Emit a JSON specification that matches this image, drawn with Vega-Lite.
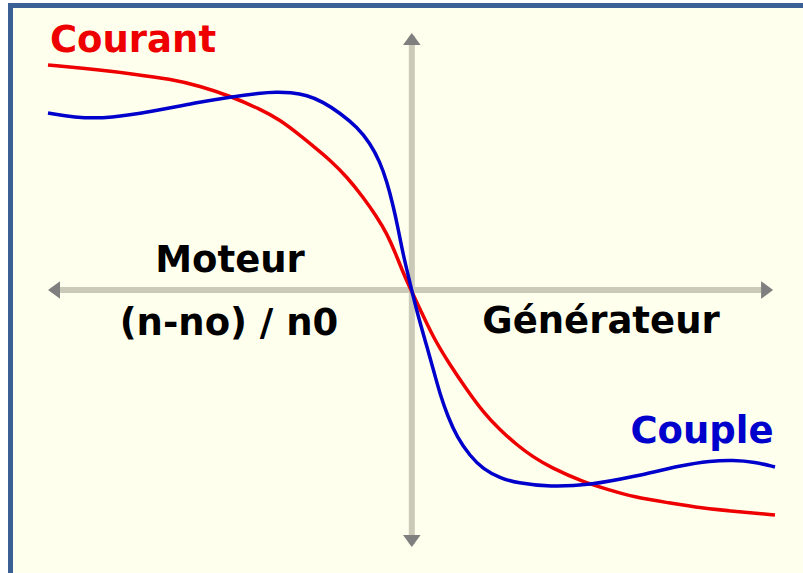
{
  "$schema": "https://vega.github.io/schema/vega-lite/v6.json",
  "autosize": "none",
  "padding": 0,
  "width": 803,
  "height": 573,
  "background": "white",
  "view": {"stroke": null},
  "datasets": {
    "frame": [{"x": -1.1036, "y": 1.2644, "x2": 1.08564, "y2": -1.25778}],
    "border": [
      {"x": -1.1036, "y": 1.2756, "x2": -1.1036, "y2": -1.25778},
      {"x": -1.1105, "y": 1.2644, "x2": 1.08564, "y2": 1.2644}
    ],
    "axes": [
      {"x": -0.99, "y": 0.0, "x2": 0.99, "y2": 0.0},
      {"x": 0.005, "y": -1.13, "x2": 0.005, "y2": 1.13}
    ],
    "arrows": [
      {"x": -1.0, "y": 0.0, "dir": "left"},
      {"x": 1.003, "y": 0.0, "dir": "right"},
      {"x": 0.005, "y": 1.142, "dir": "up"},
      {"x": 0.005, "y": -1.142, "dir": "down"}
    ],
    "curves": [
      {"s": "Courant", "x": -1.0, "y": 1.0},
      {"s": "Courant", "x": -0.8564, "y": 0.9778},
      {"s": "Courant", "x": -0.7652, "y": 0.96},
      {"s": "Courant", "x": -0.663, "y": 0.9378},
      {"s": "Courant", "x": -0.5801, "y": 0.9067},
      {"s": "Courant", "x": -0.4972, "y": 0.8622},
      {"s": "Courant", "x": -0.4144, "y": 0.8044},
      {"s": "Courant", "x": -0.3591, "y": 0.7556},
      {"s": "Courant", "x": -0.3122, "y": 0.6978},
      {"s": "Courant", "x": -0.268, "y": 0.64},
      {"s": "Courant", "x": -0.221, "y": 0.5778},
      {"s": "Courant", "x": -0.174, "y": 0.5022},
      {"s": "Courant", "x": -0.1298, "y": 0.4133},
      {"s": "Courant", "x": -0.0912, "y": 0.3244},
      {"s": "Courant", "x": -0.0635, "y": 0.2489},
      {"s": "Courant", "x": -0.0414, "y": 0.1689},
      {"s": "Courant", "x": -0.0221, "y": 0.0889},
      {"s": "Courant", "x": 0.0, "y": 0.0089},
      {"s": "Courant", "x": 0.0276, "y": -0.0844},
      {"s": "Courant", "x": 0.0635, "y": -0.2089},
      {"s": "Courant", "x": 0.1105, "y": -0.3333},
      {"s": "Courant", "x": 0.1575, "y": -0.4444},
      {"s": "Courant", "x": 0.2017, "y": -0.5422},
      {"s": "Courant", "x": 0.2486, "y": -0.6222},
      {"s": "Courant", "x": 0.2956, "y": -0.6889},
      {"s": "Courant", "x": 0.3398, "y": -0.7422},
      {"s": "Courant", "x": 0.3867, "y": -0.7867},
      {"s": "Courant", "x": 0.4779, "y": -0.8533},
      {"s": "Courant", "x": 0.5525, "y": -0.8889},
      {"s": "Courant", "x": 0.616, "y": -0.92},
      {"s": "Courant", "x": 0.7182, "y": -0.9467},
      {"s": "Courant", "x": 0.8011, "y": -0.9689},
      {"s": "Courant", "x": 0.9116, "y": -0.9867},
      {"s": "Courant", "x": 1.0083, "y": -1.0},
      {"s": "Couple", "x": -1.0, "y": 0.7867},
      {"s": "Couple", "x": -0.953, "y": 0.7733},
      {"s": "Couple", "x": -0.9033, "y": 0.7644},
      {"s": "Couple", "x": -0.8287, "y": 0.7644},
      {"s": "Couple", "x": -0.7182, "y": 0.7911},
      {"s": "Couple", "x": -0.5801, "y": 0.8356},
      {"s": "Couple", "x": -0.4972, "y": 0.8578},
      {"s": "Couple", "x": -0.4144, "y": 0.8756},
      {"s": "Couple", "x": -0.3674, "y": 0.88},
      {"s": "Couple", "x": -0.3315, "y": 0.8778},
      {"s": "Couple", "x": -0.2845, "y": 0.8667},
      {"s": "Couple", "x": -0.2403, "y": 0.8356},
      {"s": "Couple", "x": -0.1934, "y": 0.7867},
      {"s": "Couple", "x": -0.1464, "y": 0.7244},
      {"s": "Couple", "x": -0.1105, "y": 0.6533},
      {"s": "Couple", "x": -0.0829, "y": 0.5689},
      {"s": "Couple", "x": -0.0635, "y": 0.48},
      {"s": "Couple", "x": -0.047, "y": 0.3778},
      {"s": "Couple", "x": -0.0331, "y": 0.2756},
      {"s": "Couple", "x": -0.0193, "y": 0.16},
      {"s": "Couple", "x": 0.0, "y": 0.0311},
      {"s": "Couple", "x": 0.0193, "y": -0.0978},
      {"s": "Couple", "x": 0.047, "y": -0.2533},
      {"s": "Couple", "x": 0.0663, "y": -0.3644},
      {"s": "Couple", "x": 0.0829, "y": -0.4622},
      {"s": "Couple", "x": 0.105, "y": -0.5644},
      {"s": "Couple", "x": 0.1298, "y": -0.6533},
      {"s": "Couple", "x": 0.1657, "y": -0.7378},
      {"s": "Couple", "x": 0.2017, "y": -0.7956},
      {"s": "Couple", "x": 0.2486, "y": -0.8356},
      {"s": "Couple", "x": 0.2956, "y": -0.8578},
      {"s": "Couple", "x": 0.3867, "y": -0.8756},
      {"s": "Couple", "x": 0.4972, "y": -0.8667},
      {"s": "Couple", "x": 0.616, "y": -0.8311},
      {"s": "Couple", "x": 0.7541, "y": -0.7778},
      {"s": "Couple", "x": 0.8287, "y": -0.76},
      {"s": "Couple", "x": 0.8923, "y": -0.7556},
      {"s": "Couple", "x": 0.953, "y": -0.7644},
      {"s": "Couple", "x": 1.0083, "y": -0.7867}
    ],
    "labels": [
      {"t": "Courant", "x": -0.7652, "y": 1.0578, "c": "#ee0000"},
      {"t": "Moteur", "x": -0.4972, "y": 0.08, "c": "#000000"},
      {"t": "(n-no) / n0", "x": -0.5, "y": -0.2, "c": "#000000"},
      {"t": "Générateur", "x": 0.5276, "y": -0.1911, "c": "#000000"},
      {"t": "Couple", "x": 0.8066, "y": -0.68, "c": "#0000cc"}
    ]
  },
  "encoding": {
    "x": {"field": "x", "type": "quantitative", "axis": null, "scale": {"domain": [-1.1326, 1.08564], "nice": false, "zero": false}},
    "y": {"field": "y", "type": "quantitative", "axis": null, "scale": {"domain": [-1.25778, 1.28889], "nice": false, "zero": false}}
  },
  "layer": [
    {
      "data": {"name": "frame"},
      "mark": {"type": "rect", "fill": "#ffffee", "strokeWidth": 0},
      "encoding": {"x2": {"field": "x2"}, "y2": {"field": "y2"}}
    },
    {
      "data": {"name": "border"},
      "mark": {"type": "rule", "color": "#3b6096", "strokeWidth": 5},
      "encoding": {"x2": {"field": "x2"}, "y2": {"field": "y2"}}
    },
    {
      "data": {"name": "axes"},
      "mark": {"type": "rule", "color": "#cbcab8", "strokeWidth": 6},
      "encoding": {"x2": {"field": "x2"}, "y2": {"field": "y2"}}
    },
    {
      "data": {"name": "arrows"},
      "mark": {"type": "point", "filled": true, "color": "#7f7f7f", "opacity": 1, "size": 256},
      "encoding": {
        "shape": {
          "field": "dir", "type": "nominal", "legend": null,
          "scale": {
            "domain": ["left", "right", "up", "down"],
            "range": ["M0,0L1.5,-1.1L1.5,1.1Z", "M0,0L-1.5,-1.1L-1.5,1.1Z", "M0,0L-1.1,1.5L1.1,1.5Z", "M0,0L-1.1,-1.5L1.1,-1.5Z"]
          }
        }
      }
    },
    {
      "data": {"name": "curves"},
      "mark": {"type": "line", "interpolate": "basis", "strokeWidth": 3.5},
      "encoding": {
        "color": {"field": "s", "type": "nominal", "legend": null, "scale": {"domain": ["Couple", "Courant"], "range": ["#0000cc", "#ee0000"]}},
        "order": {"field": "x", "type": "quantitative"}
      }
    },
    {
      "data": {"name": "labels"},
      "mark": {"type": "text", "font": "DejaVu Sans", "fontWeight": "bold", "fontSize": 37, "align": "center", "baseline": "alphabetic"},
      "encoding": {
        "text": {"field": "t"},
        "color": {"field": "c", "type": "nominal", "scale": null}
      }
    }
  ]
}
